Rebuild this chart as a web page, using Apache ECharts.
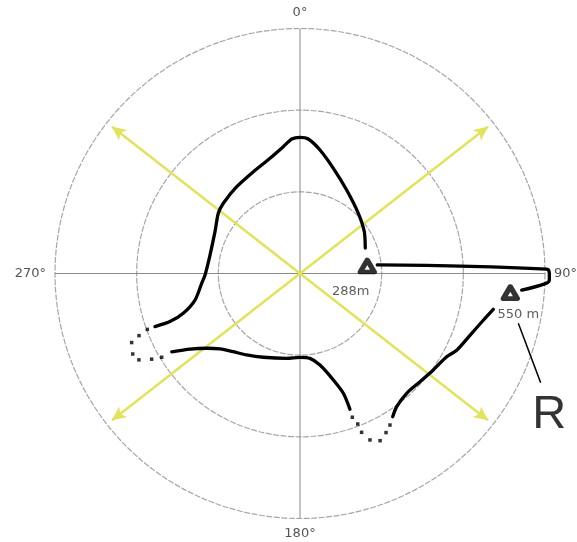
<!DOCTYPE html>
<html>
<head>
<meta charset="utf-8">
<script src="https://cdn.jsdelivr.net/npm/echarts@6/dist/echarts.min.js"></script>
<style>
  html, body { margin: 0; padding: 0; background: #fff; }
  #chart { width: 577px; height: 542px; }
</style>
</head>
<body>
<div id="chart"></div>
<script>
// Bearings shown on the angle axis (degrees clockwise from north)
const bearingTicks = [0, 90, 180, 270];
// Range rings
const ringStep = 1;
const ringMax = 3;

// Yellow sight lines: bearings and how far they reach
const sightBearings = [52, 128, 232, 308];
const sightReach = 2.92;

// Route, as [range, bearing] points
const routeNorth = [
  [0.858, 68.7], [0.939, 57.0], [1.026, 44.1], [1.171, 29.2], [1.351, 17.6],
  [1.532, 9.2], [1.650, 3.5], [1.668, 0], [1.650, 356.5], [1.566, 352.5],
  [1.458, 345.4], [1.371, 335.4], [1.315, 323.9], [1.273, 312.5], [1.243, 306.4],
  [1.160, 296.2], [1.125, 281.6], [1.163, 269.1], [1.210, 264.3], [1.326, 255.8],
  [1.510, 251.2], [1.698, 249.7], [1.891, 249.9]
];
const dotsWest = [
  [1.991, 249.9], [2.113, 248.9], [2.228, 247.7], [2.273, 244.3],
  [2.238, 241.8], [2.098, 240.0], [1.980, 238.8]
];
const routeSouth = [
  [1.840, 238.6], [1.634, 235.5], [1.464, 231.3], [1.347, 226.7], [1.259, 220.5],
  [1.192, 213.2], [1.120, 203.7], [1.051, 188.9], [1.026, 180], [1.046, 173.3],
  [1.147, 167.7], [1.366, 162.6], [1.560, 160.1], [1.772, 159.8]
];
const dotsSouth = [
  [1.873, 160.0], [1.974, 159.0], [2.086, 158.8], [2.211, 157.2],
  [2.270, 154.4], [2.215, 151.6], [2.158, 149.3]
];
const routeEast = [
  [2.089, 147.1], [2.015, 144.0], [1.964, 138.3], [1.979, 132.0], [2.015, 125.9],
  [2.065, 119.6], [2.137, 116.1], [2.215, 110.0], [2.316, 104.3], [2.407, 100.5]
];
// Link between the two summits; it swings just past the outer ring
const routeLink = [
  [0.952, 83.7], [3.021, 89.0], [3.053, 90.0], [3.054, 91.5], [3.015, 92.3], [2.722, 94.3]
];

// Summit markers and their heights
const summits = [[0.829, 83.6], [2.586, 95.2]];
const summitLabels = ['288m', '550 m'];

// Leader line for the "R" callout
const leaderR = [[2.742, 102.85], [3.236, 114.4]];
const leaderText = 'R';

const chart = echarts.init(document.getElementById('chart'), null, { renderer: 'canvas' });

const black = '#000';
const yellow = '#e1e35b';
const center = [300, 273.5];
const ringRadius = 245;
// A second, wider polar frame with the same scale carries marks that reach past the rings
const outerMax = 3.6;

function routeLine(data, polarIndex) {
  return {
    type: 'line', coordinateSystem: 'polar', polarIndex: polarIndex || 0, data: data,
    symbol: 'none', smooth: 0.25, clip: false, z: 5,
    lineStyle: { color: black, width: 3.3, cap: 'round', join: 'round' }
  };
}
function dotRun(data) {
  return {
    type: 'scatter', coordinateSystem: 'polar', data: data,
    symbol: 'rect', symbolSize: 3.5, clip: false, z: 5,
    itemStyle: { color: black }
  };
}

const sightSeries = sightBearings.map(b => ({
  type: 'line', coordinateSystem: 'polar', clip: false, z: 3,
  symbol: 'none',
  lineStyle: { color: yellow, width: 2.5 },
  data: [
    { value: [0, b], symbol: 'none' },
    { value: [sightReach, b], symbol: 'arrow', symbolSize: [10, 14], symbolRotate: -b,
      itemStyle: { color: yellow } }
  ]
}));

const summitOffsets = [[-16.5, 3], [8, -1]];

chart.setOption({
  animation: false,
  polar: [
    { center: center, radius: ringRadius },
    { center: center, radius: ringRadius * outerMax / ringMax }
  ],
  angleAxis: [
    {
      polarIndex: 0,
      type: 'value', min: 0, max: 360, interval: 90,
      startAngle: 90, clockwise: true,
      axisLine: { show: false },
      axisTick: { show: false },
      splitLine: { show: true, lineStyle: { color: '#888', width: 1 } },
      axisLabel: {
        margin: 9,
        color: '#555',
        fontSize: 13,
        fontFamily: 'DejaVu Sans',
        formatter: v => bearingTicks.indexOf(v) >= 0 ? v + '°' : ''
      }
    },
    {
      polarIndex: 1,
      type: 'value', min: 0, max: 360, startAngle: 90, clockwise: true,
      show: false
    }
  ],
  radiusAxis: [
    {
      polarIndex: 0,
      type: 'value', min: 0, max: ringMax, interval: ringStep,
      axisLine: { show: false },
      axisTick: { show: false },
      axisLabel: { show: false },
      splitLine: { show: true, lineStyle: { color: '#a6a6a6', width: 1.2, type: [6, 1.5] } }
    },
    {
      polarIndex: 1,
      type: 'value', min: 0, max: outerMax,
      show: false
    }
  ],
  series: [
    ...sightSeries,
    routeLine(routeNorth),
    dotRun(dotsWest),
    routeLine(routeSouth),
    dotRun(dotsSouth),
    routeLine(routeEast),
    Object.assign(routeLine(routeLink, 1), { smooth: 0.4 }),
    {
      type: 'scatter', coordinateSystem: 'polar', clip: false, z: 6,
      symbol: 'triangle', symbolSize: [14, 12],
      itemStyle: { color: '#fff', borderColor: black, borderWidth: 5, borderJoin: 'round' },
      data: summits.map((p, i) => ({
        value: p,
        label: {
          show: true, position: 'bottom', distance: 8,
          offset: summitOffsets[i],
          formatter: summitLabels[i],
          color: '#333', fontSize: 13, fontFamily: 'DejaVu Sans'
        }
      }))
    },
    {
      type: 'line', coordinateSystem: 'polar', polarIndex: 1, clip: false, z: 5,
      symbol: 'none', data: leaderR,
      lineStyle: { color: black, width: 1.5 }
    },
    {
      type: 'scatter', coordinateSystem: 'polar', polarIndex: 1, clip: false, z: 5,
      symbolSize: 0,
      data: [leaderR[leaderR.length - 1]],
      label: {
        show: true, position: 'bottom', distance: 9, offset: [8.5, 0],
        formatter: leaderText,
        color: '#000', fontSize: 47, lineHeight: 47,
        fontFamily: 'Liberation Sans'
      }
    }
  ]
});
</script>
</body>
</html>
